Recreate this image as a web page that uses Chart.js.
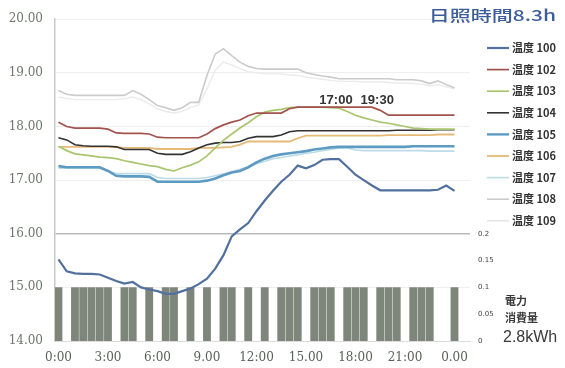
<!DOCTYPE html>
<html>
<head>
<meta charset="utf-8">
<script src="https://cdn.jsdelivr.net/npm/chart.js@4.4.1/dist/chart.umd.min.js"></script>
<style>
  html, body { margin: 0; padding: 0; background: #ffffff; }
  #wrap { width: 565px; height: 368px; position: relative; }
</style>
</head>
<body>
<div id="wrap"><canvas id="c" width="565" height="368"></canvas></div>
<script>
// Half-hourly readings over one day (hours from midnight)
const hours = [0,0.5,1,1.5,2,2.5,3,3.5,4,4.5,5,5.5,6,6.5,7,7.5,8,8.5,9,9.5,10,10.5,11,11.5,12,12.5,13,13.5,14,14.5,15,15.5,16,16.5,17,17.5,18,18.5,19,19.5,20,20.5,21,21.5,22,22.5,23,23.5,24];

const sensorNames = ['温度 100','温度 102','温度 103','温度 104','温度 105','温度 106','温度 107','温度 108','温度 109'];

const temp100 = [15.52,15.30,15.26,15.25,15.25,15.24,15.18,15.12,15.07,15.10,15.00,14.96,14.93,14.88,14.88,14.93,14.98,15.06,15.16,15.35,15.60,15.95,16.08,16.20,16.42,16.62,16.80,16.97,17.10,17.27,17.22,17.28,17.38,17.39,17.39,17.25,17.10,17.00,16.90,16.81,16.81,16.81,16.81,16.81,16.81,16.81,16.82,16.90,16.80];
const temp102 = [18.08,18.00,17.97,17.97,17.97,17.97,17.95,17.88,17.87,17.87,17.87,17.86,17.80,17.79,17.79,17.79,17.79,17.79,17.86,17.96,18.03,18.08,18.12,18.20,18.25,18.25,18.25,18.25,18.33,18.36,18.36,18.36,18.36,18.36,18.36,18.36,18.36,18.36,18.36,18.30,18.21,18.21,18.21,18.21,18.21,18.21,18.21,18.21,18.21];
const temp103 = [17.63,17.55,17.49,17.47,17.45,17.43,17.42,17.40,17.36,17.33,17.30,17.27,17.25,17.20,17.17,17.23,17.28,17.34,17.45,17.60,17.74,17.86,17.97,18.07,18.18,18.27,18.30,18.32,18.35,18.36,18.36,18.36,18.36,18.35,18.34,18.28,18.21,18.16,18.12,18.08,18.06,18.03,18.00,17.97,17.96,17.95,17.95,17.95,17.95];
const temp104 = [17.79,17.75,17.66,17.64,17.63,17.63,17.63,17.62,17.57,17.57,17.57,17.57,17.50,17.48,17.48,17.48,17.53,17.60,17.66,17.69,17.70,17.70,17.72,17.78,17.81,17.81,17.81,17.84,17.90,17.92,17.92,17.92,17.92,17.92,17.92,17.92,17.92,17.92,17.92,17.92,17.92,17.93,17.93,17.93,17.93,17.93,17.94,17.94,17.94];
const temp105 = [17.26,17.24,17.24,17.24,17.24,17.24,17.17,17.08,17.07,17.07,17.07,17.06,16.97,16.97,16.97,16.97,16.97,16.97,16.99,17.03,17.09,17.14,17.17,17.24,17.33,17.40,17.45,17.48,17.50,17.52,17.54,17.57,17.59,17.61,17.62,17.62,17.62,17.62,17.62,17.62,17.62,17.62,17.62,17.63,17.63,17.63,17.63,17.63,17.63];
const temp106 = [17.62,17.62,17.62,17.62,17.62,17.62,17.62,17.62,17.60,17.60,17.60,17.60,17.58,17.58,17.58,17.58,17.58,17.60,17.60,17.60,17.61,17.62,17.66,17.72,17.72,17.72,17.72,17.72,17.72,17.78,17.83,17.83,17.83,17.83,17.83,17.83,17.83,17.83,17.83,17.83,17.84,17.84,17.84,17.84,17.84,17.84,17.85,17.85,17.85];
const temp107 = [17.22,17.22,17.22,17.22,17.22,17.22,17.18,17.12,17.12,17.12,17.12,17.12,17.05,17.03,17.03,17.03,17.03,17.03,17.05,17.08,17.12,17.16,17.20,17.25,17.30,17.35,17.40,17.42,17.45,17.47,17.50,17.52,17.55,17.57,17.60,17.60,17.56,17.55,17.55,17.55,17.55,17.55,17.55,17.55,17.55,17.54,17.54,17.54,17.54];
const temp108 = [18.67,18.60,18.58,18.58,18.58,18.58,18.58,18.58,18.58,18.67,18.60,18.50,18.39,18.35,18.30,18.35,18.45,18.45,18.95,19.35,19.45,19.32,19.20,19.12,19.08,19.07,19.07,19.07,19.07,19.07,19.00,18.97,18.94,18.92,18.89,18.89,18.89,18.89,18.89,18.89,18.89,18.87,18.87,18.87,18.85,18.80,18.85,18.78,18.72];
const temp109 = [18.55,18.52,18.50,18.50,18.50,18.50,18.50,18.50,18.52,18.55,18.50,18.42,18.33,18.28,18.25,18.28,18.35,18.40,18.70,19.05,19.20,19.15,19.08,19.02,19.00,18.98,18.98,18.98,18.96,18.95,18.92,18.90,18.88,18.86,18.84,18.84,18.84,18.83,18.83,18.83,18.82,18.81,18.81,18.80,18.79,18.76,18.78,18.74,18.70];

// Power consumption per half hour (kWh)
const powerKwh = [0.1,0,0.1,0.1,0.1,0.1,0.1,0,0.1,0.1,0,0.1,0,0.1,0.1,0,0.1,0,0.1,0,0.1,0.1,0,0.1,0,0.1,0,0.1,0.1,0.1,0,0.1,0.1,0.1,0,0.1,0.1,0.1,0,0.1,0.1,0.1,0,0.1,0.1,0.1,0,0,0.1];

// Axis ticks
const xTickHours = [0,3,6,9,12,15,18,21,24];
const xTickLabels = ['0:00','3:00','6:00','9.00','12:00','15.00','18:00','21:00','0.00'];
const yTempTicks = [14,15,16,17,18,19,20];
const yPowerTicks = [0,0.05,0.1,0.15,0.2];
const yPowerLabels = ['0','0.05','0.1','0.15','0.2'];

// Marked times and summary texts
const markedHours = [17, 19.5];
const markedLabels = ['17:00','19:30'];
const sunshineText = '日照時間8.3h';
const powerTitle = ['電力','消費量'];
const powerTotalText = '2.8kWh';

const temps = [temp100,temp102,temp103,temp104,temp105,temp106,temp107,temp108,temp109];
const lineColors = ['#51709e','#a2534d','#a9c56e','#333333','#5d9bc2','#e7b977','#bddbe6','#cbcbcb','#ebebeb'];
const lineWidths = [2.2,1.7,1.7,1.6,2.6,1.8,1.6,1.6,1.4];

const lineSets = temps.map((arr, k) => ({
  type: 'line',
  label: sensorNames[k],
  data: hours.map((h, i) => ({ x: h, y: arr[i] })),
  borderColor: lineColors[k],
  backgroundColor: lineColors[k],
  borderWidth: lineWidths[k],
  pointRadius: 0,
  tension: 0,
  yAxisID: 'y',
  order: 1
}));

const barSet = {
  type: 'bar',
  label: '電力消費量',
  data: hours.map((h, i) => ({ x: h, y: powerKwh[i] })),
  backgroundColor: '#7e867b',
  borderWidth: 0,
  barPercentage: 0.95,
  categoryPercentage: 1,
  yAxisID: 'y2',
  order: 10
};

// Legend on the right, plus free text labels
const sideTexts = {
  id: 'sideTexts',
  afterDraw(chart) {
    const ctx = chart.ctx;
    const xs = chart.scales.x, ys = chart.scales.y;
    ctx.save();

    // legend
    const lx0 = 487, lx1 = 509, ly0 = 48, lstep = 21.6;
    chart.data.datasets.forEach((ds, i) => {
      if (ds.type !== 'line') return;
      const yy = ly0 + i * lstep;
      ctx.strokeStyle = ds.borderColor === '#ebebeb' ? '#e2e2e2' : ds.borderColor;
      ctx.lineWidth = Math.min(ds.borderWidth, 2.4);
      ctx.beginPath();
      ctx.moveTo(lx0, yy);
      ctx.lineTo(lx1, yy);
      ctx.stroke();
      ctx.fillStyle = '#333333';
      ctx.font = 'bold 11px "Noto Sans CJK JP"';
      ctx.textAlign = 'left';
      ctx.textBaseline = 'middle';
      ctx.fillText(ds.label, lx1 + 3, yy);
    });

    // sunshine hours
    ctx.save();
    ctx.translate(556, 15);
    ctx.scale(1.4, 1);
    ctx.fillStyle = '#3c5c9c';
    ctx.font = '500 15px "Noto Sans CJK JP"';
    ctx.textAlign = 'right';
    ctx.textBaseline = 'middle';
    ctx.fillText(sunshineText, 0, 0);
    ctx.restore();

    // marked times
    ctx.fillStyle = '#333333';
    ctx.font = 'bold 13px "Liberation Sans"';
    ctx.textAlign = 'center';
    ctx.textBaseline = 'middle';
    markedHours.forEach((h, i) => {
      ctx.fillText(markedLabels[i], xs.getPixelForValue(h) - 3, ys.getPixelForValue(18.49));
    });

    // power summary
    ctx.textAlign = 'left';
    ctx.fillStyle = '#3a3a3a';
    ctx.font = 'bold 11px "Noto Sans CJK JP"';
    ctx.fillText(powerTitle[0], 505, 301);
    ctx.fillText(powerTitle[1], 505, 318);
    ctx.font = '16px "Liberation Sans"';
    ctx.fillText(powerTotalText, 503, 338);
    ctx.restore();
  }
};

new Chart(document.getElementById('c'), {
  type: 'line',
  data: { datasets: [...lineSets, barSet] },
  options: {
    responsive: false,
    animation: false,
    layout: { padding: { left: 0, right: 70, top: 12, bottom: 0 } },
    plugins: { legend: { display: false }, tooltip: { enabled: false } },
    scales: {
      x: {
        type: 'linear',
        min: -0.21,
        max: 24.94,
        offset: false,
        grid: { display: false, drawTicks: false },
        border: { display: true, color: '#dcdcdc' },
        afterBuildTicks: (s) => { s.ticks = xTickHours.map(v => ({ value: v })); },
        afterFit: (s) => { s.height = 27; },
        ticks: {
          padding: 10,
          maxRotation: 0,
          autoSkip: false,
          color: '#5a605a',
          font: { family: 'DejaVu Serif', size: 12 },
          callback: (v) => xTickLabels[xTickHours.indexOf(v)]
        }
      },
      y: {
        position: 'left',
        min: 14,
        max: 20,
        afterBuildTicks: (s) => { s.ticks = yTempTicks.map(v => ({ value: v })); },
        afterFit: (s) => { s.width = 55; },
        grid: {
          drawTicks: false,
          color: (c) => (c.tick && c.tick.value === 16) ? '#b9b9b9' : '#efefef',
          lineWidth: (c) => (c.tick && c.tick.value === 16) ? 1.4 : 1
        },
        border: { display: true, color: '#c9c9c9', width: 1.5 },
        ticks: {
          padding: 12,
          color: '#6c786a',
          font: { family: 'DejaVu Serif', size: 12 },
          callback: (v) => Number(v).toFixed(2)
        }
      },
      y2: {
        position: 'right',
        min: 0,
        max: 0.6,
        afterBuildTicks: (s) => { s.ticks = yPowerTicks.map(v => ({ value: v })); },
        afterFit: (s) => { s.width = 25; },
        grid: { display: false, drawTicks: false },
        border: { display: false },
        ticks: {
          padding: 8,
          color: '#444444',
          font: { family: 'DejaVu Sans', size: 7 },
          callback: (v) => yPowerLabels[yPowerTicks.indexOf(v)]
        }
      }
    }
  },
  plugins: [sideTexts]
});
</script>
</body>
</html>
